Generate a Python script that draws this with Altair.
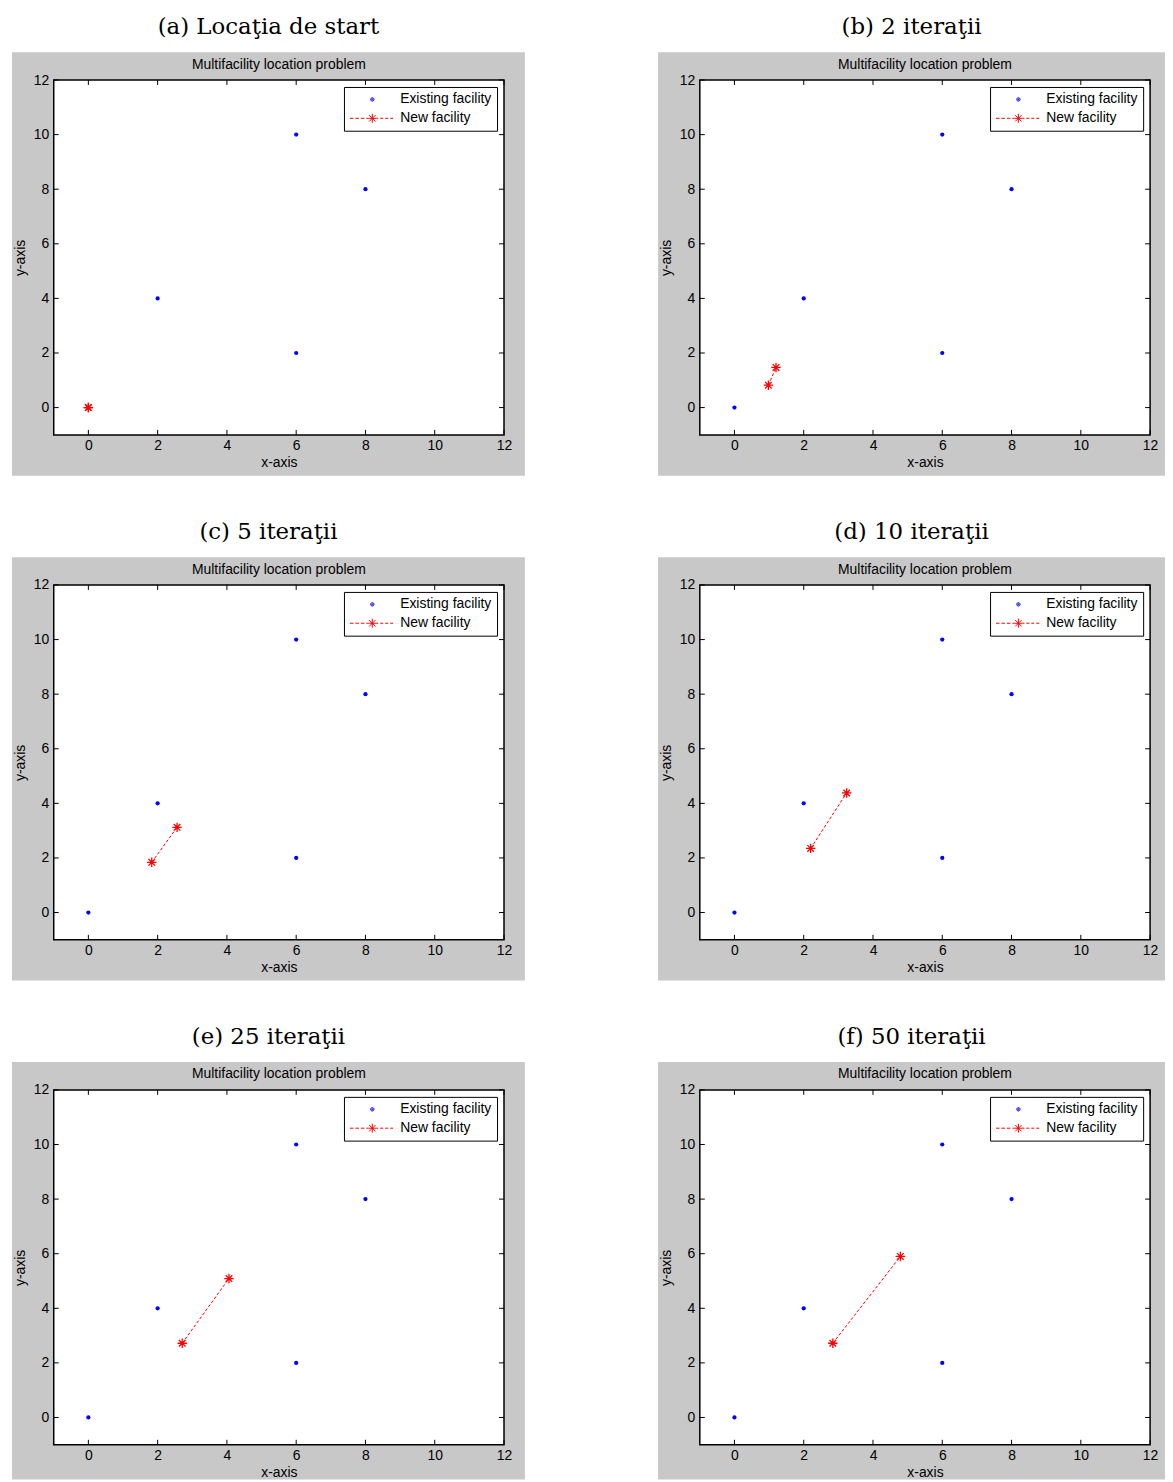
import altair as alt
import pandas as pd

# ---------------- data ----------------
captions = ["(a) Locaţia de start", "(b) 2 iteraţii", "(c) 5 iteraţii",
            "(d) 10 iteraţii", "(e) 25 iteraţii", "(f) 50 iteraţii"]
existing_x = [0, 2, 6, 8, 6]
existing_y = [0, 4, 10, 8, 2]
new_x = [[0.0, 0.0], [0.98, 1.2], [1.83, 2.56], [2.2, 3.24], [2.71, 4.06], [2.84, 4.79]]
new_y = [[0.0, 0.0], [0.82, 1.47], [1.84, 3.12], [2.35, 4.38], [2.72, 5.09], [2.72, 5.9]]
x_ticks = [0, 2, 4, 6, 8, 10, 12]
y_ticks = [0, 2, 4, 6, 8, 10, 12]
kinds = ["Existing facility", "New facility"]
plot_title = "Multifacility location problem"
x_title = "x-axis"
y_title = "y-axis"

# ---------------- style ----------------
W, H = 453, 357
GRAY = "#c8c8c8"
BLUE = "#0000ff"
RED = "#ff0000"
SANS = "Liberation Sans"
SERIF = "DejaVu Serif"
FS = 14
TICK = 5

STAR = "M-1,0L1,0M0,-1L0,1M-0.7,-0.7L0.7,0.7M-0.7,0.7L0.7,-0.7"
# legend symbols (unit = 5px at symbol size 100)
LEG_DOT = ("M3.54,0A0.34,0.34,0,1,1,2.86,0A0.34,0.34,0,1,1,3.54,0Z"
           "M3.32,0A0.12,0.12,0,1,1,3.08,0A0.12,0.12,0,1,1,3.32,0Z")
LEG_NEW = ("M-1.3,0L-0.6,0M-0.2,0L0.5,0M0.9,0L1.6,0M2,0L2.4,0"
           "M4,0L4.4,0M4.8,0L5.4,0M5.8,0L6.4,0M6.8,0L7.4,0"
           "M2.4,0L4,0M3.2,-0.9L3.2,0.9M2.56,-0.64L3.84,0.64M2.56,0.64L3.84,-0.64")

xs = alt.Scale(domain=[-1, 12], nice=False, zero=False)
ys = alt.Scale(domain=[-1, 12], nice=False, zero=False)

axis_common = dict(ticks=False, domain=False, grid=False, zindex=1,
                   labelFont=SANS, labelFontSize=FS, labelColor="black",
                   titleFont=SANS, titleFontSize=FS, titleFontWeight="normal",
                   titleColor="black", labelFlush=False, labelOverlap=False)
x_axis = alt.Axis(title=x_title, values=x_ticks, labelPadding=4, titlePadding=3, **axis_common)
y_axis = alt.Axis(title=y_title, values=y_ticks, labelPadding=5, titlePadding=6, **axis_common)


def X():
    return alt.X("x:Q", scale=xs, axis=x_axis)


def Y():
    return alt.Y("y:Q", scale=ys, axis=y_axis)


one = alt.Data(values=[{}])


def panel(i, gr, gb):
    ex = pd.DataFrame({"x": existing_x, "y": existing_y})
    nw = pd.DataFrame({"x": new_x[i], "y": new_y[i], "order": [0, 1]})
    xt = pd.DataFrame({"x": x_ticks})
    yt = pd.DataFrame({"y": y_ticks})
    lg = pd.DataFrame({"kind": kinds})

    gray = alt.Chart(one).mark_rect(color=GRAY).encode(
        x=alt.value(-42), x2=alt.value(W + gr), y=alt.value(-28), y2=alt.value(H + gb))
    white = alt.Chart(one).mark_rect(color="white").encode(
        x=alt.value(0), x2=alt.value(W), y=alt.value(0), y2=alt.value(H))
    line = alt.Chart(nw).mark_line(color=RED, strokeWidth=1, strokeDash=[3, 2]).encode(
        x=X(), y=Y(), order="order:Q")
    pts = alt.Chart(ex).mark_point(filled=True, shape="circle", size=18, color=BLUE, opacity=1).encode(
        x=X(), y=Y())
    stars = alt.Chart(nw).mark_point(filled=False, shape=STAR, size=90, color=RED,
                                      strokeWidth=1.3, opacity=1).encode(x=X(), y=Y())
    xb = alt.Chart(xt).mark_rule(color="black", strokeWidth=1).encode(
        x=X(), y=alt.value(H), y2=alt.value(H - TICK))
    xtp = alt.Chart(xt).mark_rule(color="black", strokeWidth=1).encode(
        x=X(), y=alt.value(0), y2=alt.value(TICK))
    yl = alt.Chart(yt).mark_rule(color="black", strokeWidth=1).encode(
        y=Y(), x=alt.value(0), x2=alt.value(TICK))
    yr = alt.Chart(yt).mark_rule(color="black", strokeWidth=1).encode(
        y=Y(), x=alt.value(W), x2=alt.value(W - TICK))
    border = alt.Chart(one).mark_rect(fillOpacity=0, stroke="black", strokeWidth=1.5).encode(
        x=alt.value(0), x2=alt.value(W), y=alt.value(0), y2=alt.value(H))
    ttl = alt.Chart(one).mark_text(text=plot_title, font=SANS, fontSize=FS, color="black",
                                   align="center", baseline="middle").encode(
        x=alt.value(W / 2), y=alt.value(-15.5))
    leg = alt.Legend(title=None, orient="top-right", offset=7, padding=5.5,
                     fillColor="white", strokeColor="black",
                     labelFont=SANS, labelFontSize=FS, labelColor="black",
                     labelOffset=37, symbolSize=100, symbolStrokeWidth=1,
                     symbolOpacity=1, rowPadding=5)
    dummy = alt.Chart(lg).mark_point(filled=False).encode(
        x=alt.value(0), y=alt.value(0), opacity=alt.value(0),
        color=alt.Color("kind:N", scale=alt.Scale(domain=kinds, range=[BLUE, RED]), legend=leg),
        shape=alt.Shape("kind:N", scale=alt.Scale(domain=kinds, range=[LEG_DOT, LEG_NEW]), legend=leg))

    return alt.layer(gray, white, line, pts, stars, xb, xtp, yl, yr, border, ttl, dummy).properties(
        width=W, height=H,
        title=alt.Title(captions[i], font=SERIF, fontSize=23, fontWeight="normal", color="black",
                        anchor="middle", frame="bounds", baseline="alphabetic", offset=-5))


rows = []
for r in range(3):
    gb = 41 if r < 2 else 35
    left = panel(2 * r, 21, gb)
    right = panel(2 * r + 1, 15, gb)
    rows.append(alt.hconcat(left, right, spacing=134)
                .resolve_scale(color="independent", shape="independent")
                .resolve_legend(color="independent", shape="independent"))

chart = alt.vconcat(*rows, spacing=46).resolve_scale(
    color="independent", shape="independent").resolve_legend(
    color="independent", shape="independent").properties(
    padding={"left": 4, "top": 4, "right": 0, "bottom": 0}).configure_view(stroke=None)

chart.save("out.html", embed_options={"renderer": "svg", "actions": False})
